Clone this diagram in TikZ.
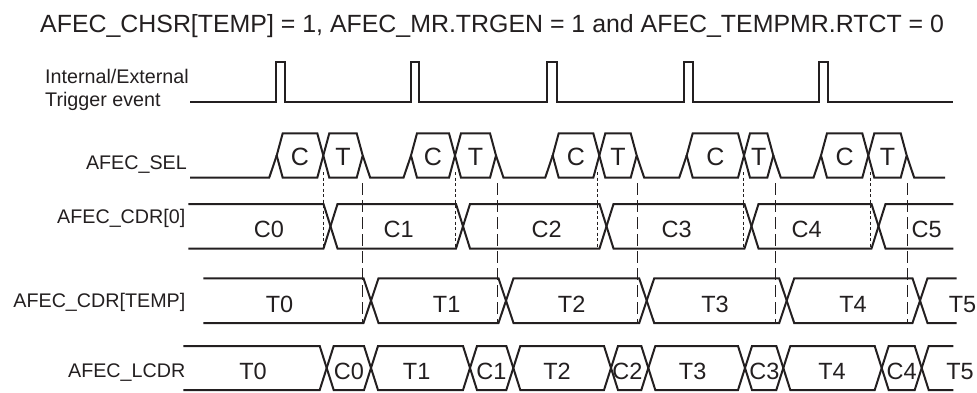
\documentclass[tikz,border=0pt]{standalone}
\usepackage{fontspec}
\setmainfont{Liberation Sans}
\definecolor{ink}{HTML}{231F20}
\begin{document}
\begin{tikzpicture}[x=1pt,y=-1pt,
  wave/.style={line width=2pt, draw=ink, line join=miter},
  guideshort/.style={line width=0.9pt, draw=ink, dash pattern=on 3pt off 2.5pt},
  guidelong/.style={line width=0.9pt, draw=ink, dash pattern=on 12pt off 5pt},
  lbl/.style={inner sep=0pt, text=ink, font=\fontsize{19.7}{23.4}\selectfont},
  val/.style={inner sep=0pt, text=ink, anchor=base, font=\fontsize{23.5}{28}\selectfont},
  hexval/.style={inner sep=0pt, text=ink, anchor=base, font=\fontsize{25}{28}\selectfont}]
\useasboundingbox (0,0) rectangle (977,392);

% title
\node[inner sep=0pt, text=ink, anchor=base west, font=\fontsize{24.9}{28}\selectfont] (title) at (40,32.3)
  {AFEC\_CHSR[TEMP] = 1, AFEC\_MR.TRGEN = 1 and AFEC\_TEMPMR.RTCT = 0};

% row labels
\node[lbl, anchor=base west] (trig1) at (45,83.3) {Internal/External};
\node[lbl, anchor=base west] (trig2) at (45,106.7) {Trigger event};
\node[lbl, anchor=base east] (lsel) at (187,169.3) {AFEC\_SEL};
\node[lbl, anchor=base east] (lcdr0) at (185.5,223.3) {AFEC\_CDR[0]};
\node[lbl, anchor=base east] (lcdrt) at (185.5,307.7) {AFEC\_CDR[TEMP]};
\node[lbl, anchor=base east] (llcdr) at (185.5,377.7) {AFEC\_LCDR};

% trigger
\draw[wave] (190,101.5)
  foreach \a/\b in {276/284.7, 410.7/419.3, 546.7/556.7, 684/692.7, 819/828.3}
  { -- (\a,101.5) -- (\a,62) -- (\b,62) -- (\b,101.5) } -- (953.3,101.5);

% AFEC_SEL
\def\B{177.7}\def\T{133.3}\def\M{155.5}
\draw[wave] (190,\B)
  foreach \s/\e in {276.7/362.7, 411/496, 552.7/636.7, 686.7/773.3, 821/906.7}
  { -- (\s-7.5,\B) -- (\s,\M) (\e,\M) -- (\e+7.5,\B) } -- (945,\B);
\foreach \s/\m/\e [count=\i] in {276.7/323.3/362.7, 411/455/496, 552.7/599.3/636.7, 686.7/744/773.3, 821/868.3/906.7}{
  \draw[wave] (\s,\M) -- (\s+6,\T) -- (\m-6,\T) -- (\m,\M) -- (\m-6,\B) -- (\s+6,\B) -- cycle;
  \draw[wave] (\m,\M) -- (\m+6,\T) -- (\e-6,\T) -- (\e,\M) -- (\e-6,\B) -- (\m+6,\B) -- cycle;
  \node[hexval] (selc\i) at ({(\s+\m)/2},165) {C};
  \node[hexval] (selt\i) at ({(\m+\e)/2},165) {T};
}

% guide lines
\foreach \x in {323, 455, 597.5, 743, 870}
  \draw[guideshort] (\x,172) -- (\x,248);
\foreach \x in {362.5, 497.3, 637.3, 775, 907.3}
  \draw[guidelong] (\x,183) -- (\x,323);

% AFEC_CDR[0]
\draw[wave] (188.3,204) foreach \c/\a/\b in {330.5/204/248.5, 463/248.5/204, 606.5/204/248.5, 751.5/248.5/204, 878.5/204/248.5}
  { -- (\c-7,\a) -- (\c+7,\b) } -- (953.3,248.5);
\draw[wave] (188.3,248.5) foreach \c/\a/\b in {330.5/248.5/204, 463/204/248.5, 606.5/248.5/204, 751.5/204/248.5, 878.5/248.5/204}
  { -- (\c-7,\a) -- (\c+7,\b) } -- (953.3,204);
\foreach \x/\t [count=\i] in {269/C0, 398.7/C1, 546.7/C2, 676.7/C3, 806.7/C4, 926.7/C5}
  \node[val] (c0v\i) at (\x,237.5) {\t};

% AFEC_CDR[TEMP]
\draw[wave] (203.3,278.3) foreach \c/\a/\b in {371/278.3/323, 506/323/278.3, 646.7/278.3/323, 786.7/323/278.3, 920/278.3/323}
  { -- (\c-7.5,\a) -- (\c+7.5,\b) } -- (956.7,323);
\draw[wave] (203.3,323) foreach \c/\a/\b in {371/323/278.3, 506/278.3/323, 646.7/323/278.3, 786.7/278.3/323, 920/323/278.3}
  { -- (\c-7.5,\a) -- (\c+7.5,\b) } -- (956.7,278.3);
\foreach \x/\t [count=\i] in {279.5/T0, 446.7/T1, 571.7/T2, 715/T3, 853/T4, 962.5/T5}
  \node[val] (ctv\i) at (\x,312) {\t};

% AFEC_LCDR
\draw[wave] (183.3,346) foreach \c/\a/\b in {326.7/346/390, 371/390/346, 470/346/390, 513.3/390/346, 611/346/390, 648.3/390/346, 745/346/390, 783.3/390/346, 881.7/346/390, 921.7/390/346}
  { -- (\c-7,\a) -- (\c+7,\b) } -- (953.3,346);
\draw[wave] (183.3,390) foreach \c/\a/\b in {326.7/390/346, 371/346/390, 470/390/346, 513.3/346/390, 611/390/346, 648.3/346/390, 745/390/346, 783.3/346/390, 881.7/390/346, 921.7/346/390}
  { -- (\c-7,\a) -- (\c+7,\b) } -- (953.3,390);
\foreach \x/\t [count=\i] in {253/T0, 349/C0, 416.7/T1, 491.5/C1, 557/T2, 627.5/C2, 692.7/T3, 764.3/C3, 832/T4, 901.7/C4, 960/T5}
  \node[val] (lcv\i) at (\x,379) {\t};
\end{tikzpicture}
\end{document}
